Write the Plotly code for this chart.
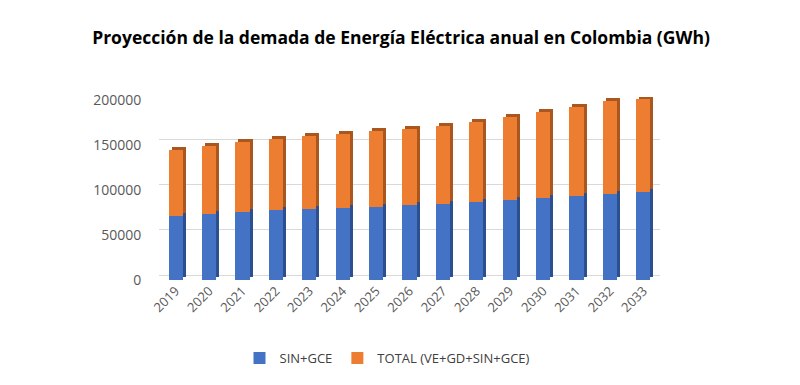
import plotly.graph_objects as go

years = ["2019", "2020", "2021", "2022", "2023", "2024", "2025", "2026",
         "2027", "2028", "2029", "2030", "2031", "2032", "2033"]
sin_gce = [71100, 73300, 75900, 77300, 78900, 79600, 81100, 82700,
           84800, 87000, 88400, 90600, 93200, 95000, 98000]
total = [72600, 75700, 76700, 79400, 81100, 82200, 83700, 85100,
         86300, 88600, 92300, 96300, 99200, 103100, 103100]
y_ticks = [0, 50000, 100000, 150000, 200000]

BLUE, BLUE_D = "#4472C4", "#2C4F8F"
ORANGE, ORANGE_D = "#ED7D31", "#A9561F"

W, H = 800, 385
OFF = 8  # page body margin offset
ML, MT = 159 - OFF, 97 - OFF
MR, MB = W - (660 - OFF), H - (280 - OFF)
pw, ph = W - ML - MR, H - MT - MB
ymax = 203000
depth = 3  # px of pseudo-3D depth
grid_shift = 5  # px the back-wall gridlines sit above the front
n = len(years)
dx = depth / (pw / n)
dy = depth / (ph / ymax)
gy = grid_shift / (ph / ymax)
BW = 0.42

fig = go.Figure()
# invisible trace carrying the back-wall gridlines (main subplot, drawn first)
fig.add_trace(go.Bar(x=years, y=[0] * n, showlegend=False, hoverinfo="skip",
                     marker=dict(color="rgba(0,0,0,0)", line=dict(width=0)),
                     xaxis="x", yaxis="y"))
# depth faces (behind, shifted up-right via axis ranges)
fig.add_trace(go.Bar(x=years, y=sin_gce, width=BW, showlegend=False, hoverinfo="skip",
                     marker=dict(color=BLUE_D, line=dict(width=0)), xaxis="x2", yaxis="y2"))
fig.add_trace(go.Bar(x=years, y=total, width=BW, showlegend=False, hoverinfo="skip",
                     marker=dict(color=ORANGE_D, line=dict(width=0)), xaxis="x2", yaxis="y2"))
# front faces
fig.add_trace(go.Bar(x=years, y=sin_gce, name="SIN+GCE", width=BW,
                     marker=dict(color=BLUE, line=dict(width=0)), xaxis="x3", yaxis="y3"))
fig.add_trace(go.Bar(x=years, y=total, name="TOTAL (VE+GD+SIN+GCE)", width=BW,
                     marker=dict(color=ORANGE, line=dict(width=0)), xaxis="x3", yaxis="y3"))

tickfont = dict(family="Open Sans, Liberation Sans, sans-serif", size=14, color="#595959")

fig.update_layout(
    width=W, height=H,
    margin=dict(l=ML, r=MR, t=MT, b=MB, autoexpand=False),
    paper_bgcolor="white", plot_bgcolor="white",
    barmode="stack",
    title=dict(text="<b>Proyección de la demada de Energía Eléctrica anual en Colombia (GWh)</b>",
               x=(401 - OFF) / W, xref="container", xanchor="center",
               y=1 - (38 - OFF) / H, yref="container", yanchor="middle",
               font=dict(family="Open Sans, sans-serif", size=17.5, color="black")),
    xaxis=dict(type="category", range=[-0.5 - 2 * dx, n - 0.5 - 2 * dx],
               showticklabels=False, showgrid=False, zeroline=False, showline=False,
               ticks=""),
    yaxis=dict(range=[-gy, ymax - gy], tickvals=y_ticks,
               showticklabels=False, showgrid=True, gridcolor="#D9D9D9", gridwidth=1,
               zeroline=False, showline=False, ticks=""),
    xaxis2=dict(type="category", overlaying="x", range=[-0.5 - dx, n - 0.5 - dx],
                showticklabels=False, showgrid=False, zeroline=False, showline=False,
                ticks=""),
    yaxis2=dict(overlaying="y", range=[-dy, ymax - dy], showticklabels=False,
                showgrid=False, zeroline=False, showline=False, ticks=""),
    xaxis3=dict(type="category", overlaying="x", range=[-0.5, n - 0.5],
                tickangle=-45, showgrid=False, zeroline=False, showline=False,
                ticks="", tickfont=dict(family="Open Sans, Liberation Sans, sans-serif",
                                        size=13, color="#595959")),
    yaxis3=dict(overlaying="y", range=[0, ymax], tickvals=y_ticks, tickformat="d",
                showgrid=False, zeroline=False, showline=False, ticks="outside",
                ticklen=14, tickcolor="rgba(0,0,0,0)", tickfont=tickfont),
    legend=dict(orientation="h", x=(387.5 - OFF) / W, xref="container", xanchor="center",
                y=1 - (358 - OFF) / H, yref="container", yanchor="middle",
                traceorder="normal", itemwidth=30,
                font=dict(family="Open Sans, Liberation Sans, sans-serif", size=13,
                          color="#404040")),
    showlegend=True,
)

fig.write_html("out.html")
